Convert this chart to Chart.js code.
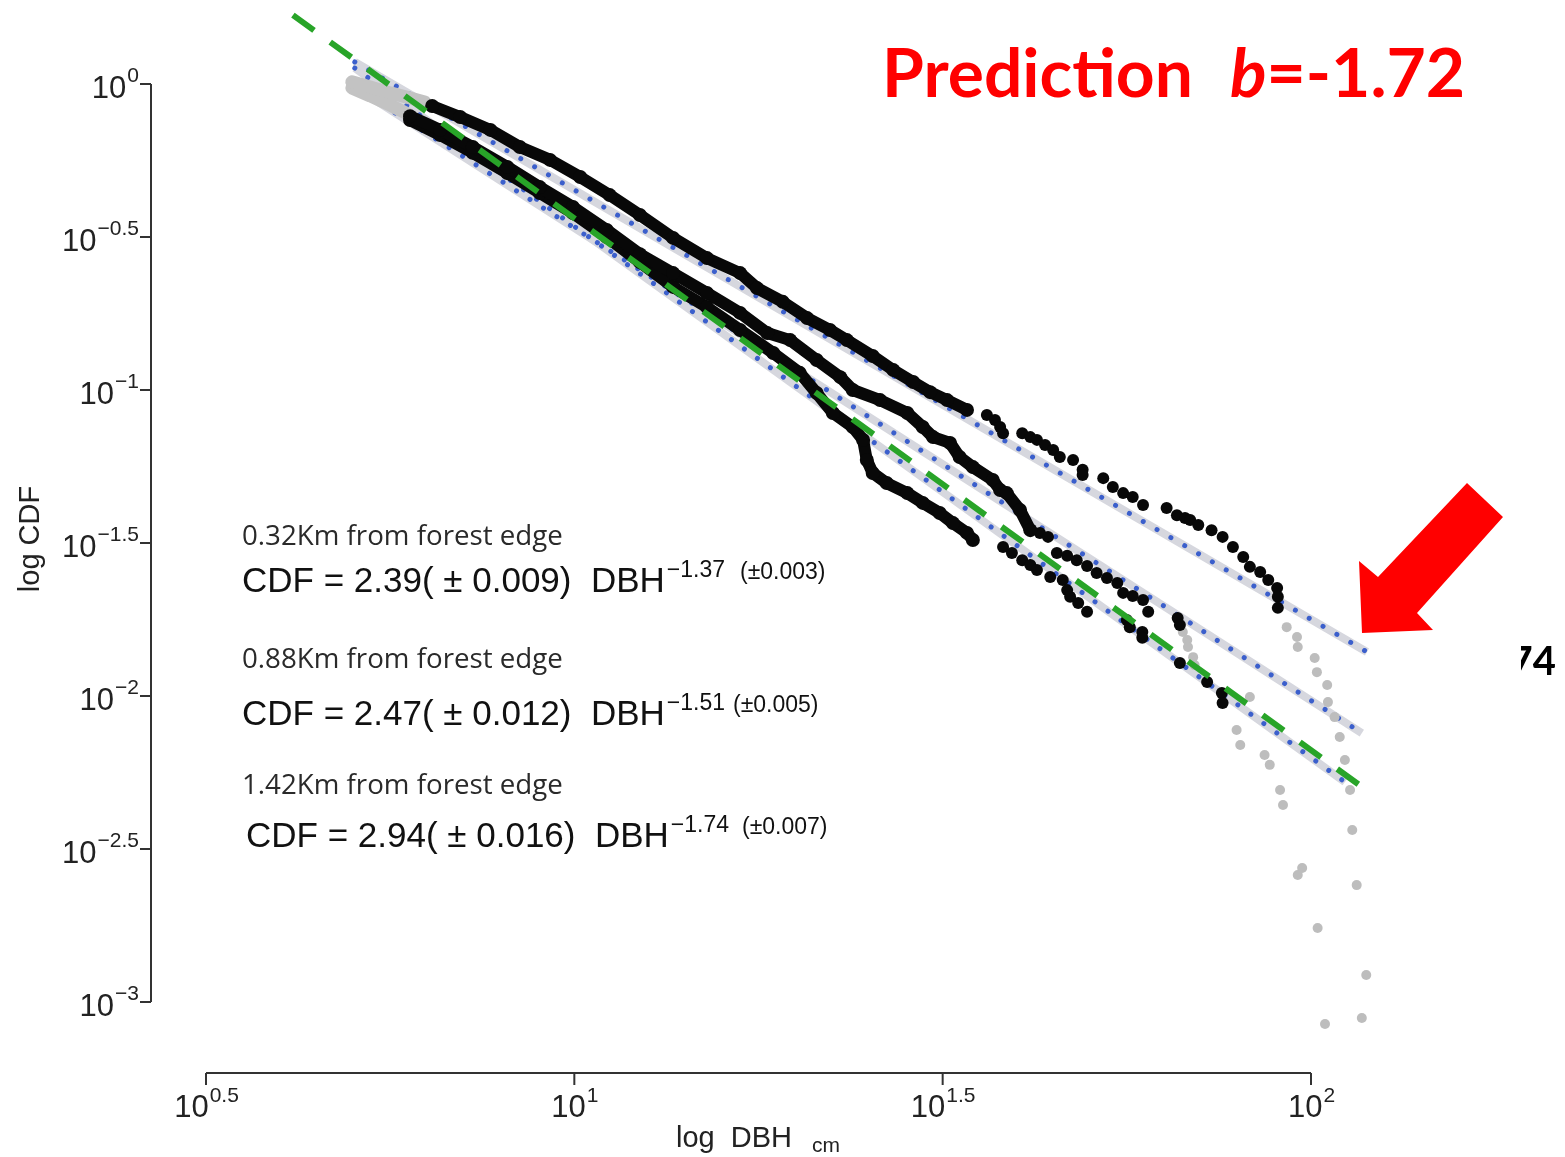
<!DOCTYPE html>
<html>
<head>
<meta charset="utf-8">
<script src="https://cdn.jsdelivr.net/npm/chart.js@4.4.0/dist/chart.umd.min.js"></script>
<style>
  html, body { margin: 0; padding: 0; background: #fff; }
</style>
</head>
<body>
<canvas id="dbhChart" width="1565" height="1157"></canvas>
<script>
// all values are log10(DBH cm) and log10(CDF)

// 0.32 Km from forest edge
var upperX = [0.807, 0.845, 0.886, 0.926, 0.967, 1.008, 1.048, 1.089, 1.134, 1.180, 1.225, 1.248, 1.283, 1.316, 1.347, 1.370, 1.405, 1.433, 1.460, 1.483, 1.506, 1.533];
var upperY = [-0.072, -0.108, -0.150, -0.206, -0.248, -0.304, -0.363, -0.428, -0.503, -0.569, -0.618, -0.667, -0.712, -0.765, -0.804, -0.837, -0.889, -0.935, -0.974, -1.007, -1.033, -1.065];
var upperSparseX = [1.560, 1.571, 1.578, 1.582, 1.608, 1.619, 1.628, 1.639, 1.650, 1.659, 1.677, 1.690, 1.690, 1.718, 1.731, 1.745, 1.758, 1.772, 1.804, 1.818, 1.829, 1.836, 1.847, 1.865, 1.880, 1.894, 1.908, 1.917, 1.931, 1.942, 1.954, 1.955, 1.955];
var upperSparseY = [-1.082, -1.098, -1.121, -1.141, -1.141, -1.154, -1.163, -1.180, -1.196, -1.219, -1.229, -1.261, -1.278, -1.288, -1.317, -1.337, -1.350, -1.376, -1.386, -1.409, -1.418, -1.425, -1.441, -1.458, -1.480, -1.513, -1.546, -1.578, -1.595, -1.621, -1.647, -1.676, -1.712];
var upperHeadX = [0.698, 0.723, 0.750, 0.777, 0.797];
var upperHeadY = [0.007, -0.010, -0.029, -0.046, -0.059];
var upperTailX = [1.967, 1.981, 1.982, 2.005, 2.008, 2.022, 2.023, 2.032, 2.039, 2.046, 2.053, 2.056, 2.062, 2.075, 2.069];
var upperTailY = [-1.775, -1.807, -1.840, -1.876, -1.922, -1.964, -2.020, -2.069, -2.134, -2.209, -2.307, -2.438, -2.618, -2.912, -3.052];

// 0.88 Km from forest edge
var middleX = [0.777, 0.818, 0.862, 0.909, 0.953, 0.998, 1.044, 1.089, 1.134, 1.180, 1.225, 1.262, 1.293, 1.329, 1.361, 1.378, 1.415, 1.452, 1.473, 1.487, 1.510, 1.523, 1.541, 1.568, 1.578, 1.587, 1.605, 1.619];
var middleY = [-0.105, -0.150, -0.206, -0.271, -0.337, -0.402, -0.477, -0.556, -0.618, -0.683, -0.748, -0.814, -0.837, -0.902, -0.958, -1.000, -1.033, -1.075, -1.121, -1.154, -1.173, -1.219, -1.252, -1.294, -1.327, -1.337, -1.392, -1.458];
var middleSparseX = [1.632, 1.643, 1.655, 1.669, 1.682, 1.696, 1.709, 1.723, 1.737, 1.745, 1.758, 1.772, 1.779, 1.819, 1.822];
var middleSparseY = [-1.467, -1.480, -1.533, -1.542, -1.556, -1.575, -1.598, -1.614, -1.631, -1.663, -1.673, -1.686, -1.725, -1.745, -1.768];
var middleTailX = [1.826, 1.832, 1.833, 1.840, 1.842];
var middleTailY = [-1.791, -1.817, -1.840, -1.873, -1.899];

// 1.42 Km from forest edge
var lowerX = [0.777, 0.818, 0.862, 0.909, 0.953, 0.998, 1.044, 1.089, 1.134, 1.180, 1.225, 1.270, 1.306, 1.329, 1.351, 1.378, 1.392, 1.397, 1.405, 1.424, 1.452, 1.473, 1.496, 1.514, 1.533, 1.541];
var lowerY = [-0.118, -0.167, -0.225, -0.291, -0.356, -0.422, -0.500, -0.582, -0.663, -0.729, -0.804, -0.879, -0.944, -1.010, -1.075, -1.121, -1.163, -1.229, -1.271, -1.304, -1.337, -1.369, -1.402, -1.435, -1.467, -1.490];
var lowerSparseX = [1.582, 1.594, 1.608, 1.619, 1.628, 1.646, 1.663, 1.669, 1.673, 1.684, 1.696, 1.750, 1.754, 1.771, 1.771, 1.822, 1.859, 1.879, 1.880];
var lowerSparseY = [-1.513, -1.533, -1.556, -1.572, -1.588, -1.611, -1.621, -1.654, -1.676, -1.696, -1.725, -1.752, -1.775, -1.791, -1.810, -1.892, -1.954, -1.990, -2.023];
var lowerHeadX = [0.698, 0.723, 0.750, 0.774];
var lowerHeadY = [-0.013, -0.039, -0.069, -0.098];
var lowerTailX = [1.917, 1.899, 1.904, 1.937, 1.944, 1.958, 1.962, 1.982, 1.988, 2.009, 2.019];
var lowerTailY = [-2.003, -2.111, -2.160, -2.193, -2.225, -2.307, -2.356, -2.585, -2.562, -2.758, -3.072];

// fitted power laws and the predicted slope
var fit1X = [0.702, 2.076], fit1Y = [0.072, -1.856];
var fit2X = [0.702, 2.069], fit2Y = [-0.010, -2.121];
var fit3X = [0.702, 2.046], fit3Y = [0.052, -2.281];
var predX = [0.618, 2.075], predY = [0.225, -2.307];

// axis ticks
var xTicks = [0.5, 1, 1.5, 2];
var xTickLabels = ['0.5', '1', '1.5', '2'];
var yTicks = [0, -0.5, -1, -1.5, -2, -2.5, -3];
var yTickLabels = ['0', '\u22120.5', '\u22121', '\u22121.5', '\u22122', '\u22122.5', '\u22123'];

var FONT = '"Liberation Sans", Arial, sans-serif';

// axis 10^0.5..10^2 sits between px 206 and 1311, 10^0..10^-3 between px 84 and 1002
var padLeft = 150, padRight = 165, padBottom = 57;
var pxPerX = (1311 - 206) / 1.5;
var pxPerY = (1002 - 84) / 3;
var X_MIN = 0.5 - (206 - padLeft) / pxPerX;
var X_MAX = 2 + (1565 - padRight - 1311) / pxPerX;
var Y_MAX = 84 / pxPerY;
var Y_MIN = -3 - (1157 - padBottom - 1002) / pxPerY;

function pts(xs, ys) {
    return xs.map(function (x, i) { return { x: x, y: ys[i] }; });
}

function band(xs, ys) {
    return { data: pts(xs, ys), showLine: true, borderColor: '#d6d7de', borderWidth: 8,
             pointRadius: 0, borderCapStyle: 'butt', clip: false, order: 6 };
}
function dots(xs, ys) {
    return { data: pts(xs, ys), showLine: true, borderColor: '#3b5fcc', borderWidth: 5,
             borderDash: [0.01, 16], borderCapStyle: 'round', pointRadius: 0, clip: false, order: 5 };
}
function denseCurve(xs, ys) {
    return { data: pts(xs, ys), showLine: true, borderColor: '#080808', borderWidth: 12,
             borderJoinStyle: 'round', borderCapStyle: 'round', pointRadius: 7,
             pointBackgroundColor: '#080808', pointBorderWidth: 0, clip: false, order: 2 };
}
function sparseCurve(xs, ys, color, r, order) {
    return { data: pts(xs, ys), showLine: false, pointRadius: r, pointBackgroundColor: color,
             pointBorderWidth: 0, clip: false, order: order };
}
function headCurve(xs, ys) {
    return { data: pts(xs, ys), showLine: true, borderColor: '#c3c3c3', borderWidth: 13,
             borderCapStyle: 'round', borderJoinStyle: 'round', pointRadius: 0, clip: false, order: 3 };
}

var datasets = [
    band(fit1X, fit1Y), band(fit2X, fit2Y), band(fit3X, fit3Y),
    dots(fit1X, fit1Y), dots(fit2X, fit2Y), dots(fit3X, fit3Y),
    headCurve(upperHeadX, upperHeadY), headCurve(lowerHeadX, lowerHeadY),
    sparseCurve(upperTailX, upperTailY, '#bdbdbd', 5, 3),
    sparseCurve(middleTailX, middleTailY, '#bdbdbd', 5, 3),
    sparseCurve(lowerTailX, lowerTailY, '#bdbdbd', 5, 3),
    denseCurve(upperX, upperY), denseCurve(middleX, middleY), denseCurve(lowerX, lowerY),
    sparseCurve(upperSparseX, upperSparseY, '#080808', 6, 2),
    sparseCurve(middleSparseX, middleSparseY, '#080808', 6, 2),
    sparseCurve(lowerSparseX, lowerSparseY, '#080808', 6, 2),
    { data: pts(predX, predY), showLine: true, borderColor: '#28a428', borderWidth: 6,
      borderDash: [26, 20], pointRadius: 0, clip: false, order: 1 }
];

function drawPow(ctx, base, sup, x, y, align, baseSize, supSize, rise) {
    ctx.font = baseSize + 'px ' + FONT;
    var wb = ctx.measureText(base).width;
    ctx.font = supSize + 'px ' + FONT;
    var ws = ctx.measureText(sup).width;
    var start = align === 'center' ? x - (wb + ws) / 2 : x - wb - ws;
    ctx.font = baseSize + 'px ' + FONT;
    ctx.fillText(base, start, y);
    ctx.font = supSize + 'px ' + FONT;
    ctx.fillText(sup, start + wb + 1, y - rise);
    return start + wb;
}

function fitFont(ctx, text, width, style, family) {
    ctx.font = style + ' 40px ' + family;
    return 40 * width / ctx.measureText(text).width;
}

function equation(ctx, x, y, coef, err, exp, expErr, errX) {
    ctx.fillStyle = '#111';
    ctx.font = '35px ' + FONT;
    var main = 'CDF = ' + coef + '( \u00b1 ' + err + ')  DBH';
    ctx.fillText(main, x, y);
    var w = ctx.measureText(main).width;
    ctx.font = '23px ' + FONT;
    ctx.fillText(exp, x + w + 2, y - 15);
    ctx.font = '23px ' + FONT;
    ctx.fillText('(\u00b1' + expErr + ')', errX, y - 13);
}

var decor = {
    id: 'decor',
    afterDraw: function (chart) {
        var ctx = chart.ctx;
        var xs = chart.scales.x, ys = chart.scales.y;
        var axisX = xs.getPixelForValue(0.5) - 55;
        var axisY = ys.getPixelForValue(-3) + 71;
        ctx.save();
        ctx.strokeStyle = '#333';
        ctx.lineWidth = 2;
        ctx.fillStyle = '#222';
        ctx.textBaseline = 'alphabetic';
        ctx.textAlign = 'left';

        // y axis
        ctx.beginPath();
        ctx.moveTo(axisX, ys.getPixelForValue(yTicks[0]));
        ctx.lineTo(axisX, ys.getPixelForValue(yTicks[yTicks.length - 1]));
        yTicks.forEach(function (v) {
            var py = ys.getPixelForValue(v);
            ctx.moveTo(axisX - 11, py);
            ctx.lineTo(axisX, py);
        });
        ctx.stroke();
        yTicks.forEach(function (v, i) {
            var py = ys.getPixelForValue(v);
            drawPow(ctx, '10', yTickLabels[i], axisX - 13, py + 14, 'right', 31, 21, 16);
        });

        // x axis
        ctx.beginPath();
        ctx.moveTo(xs.getPixelForValue(xTicks[0]), axisY);
        ctx.lineTo(xs.getPixelForValue(xTicks[xTicks.length - 1]), axisY);
        xTicks.forEach(function (v) {
            var px = xs.getPixelForValue(v);
            ctx.moveTo(px, axisY);
            ctx.lineTo(px, axisY + 12);
        });
        ctx.stroke();
        xTicks.forEach(function (v, i) {
            drawPow(ctx, '10', xTickLabels[i], xs.getPixelForValue(v), axisY + 44, 'center', 31, 21, 15);
        });

        // axis titles
        ctx.font = '29px ' + FONT;
        ctx.fillText('log  DBH', 676, 1147);
        ctx.font = '21px ' + FONT;
        ctx.fillText('cm', 812, 1152);
        ctx.save();
        ctx.translate(39, 539);
        ctx.rotate(-Math.PI / 2);
        ctx.textAlign = 'center';
        ctx.font = '29px ' + FONT;
        ctx.fillText('log CDF', 0, 0);
        ctx.restore();

        // fit annotations
        var fam = '"Open Sans", "Noto Sans", sans-serif';
        var fs = fitFont(ctx, '0.32Km from forest edge', 321, 'normal', fam);
        ctx.font = fs + 'px ' + fam;
        ctx.fillStyle = '#2a2a2a';
        ctx.fillText('0.32Km from forest edge', 242, 545);
        ctx.fillText('0.88Km from forest edge', 242, 668);
        ctx.fillText('1.42Km from forest edge', 242, 794);
        equation(ctx, 242, 592, '2.39', '0.009', '\u22121.37', '0.003', 740);
        equation(ctx, 242, 725, '2.47', '0.012', '\u22121.51', '0.005', 733);
        equation(ctx, 246, 847, '2.94', '0.016', '\u22121.74', '0.007', 742);

        // title
        var tf = '"Lato", "Open Sans", sans-serif';
        var ts = fitFont(ctx, 'Prediction', 311, 'bold', tf);
        ctx.fillStyle = '#ff0000';
        ctx.font = 'bold ' + ts + 'px ' + tf;
        ctx.fillText('Prediction', 882, 97);
        ctx.font = 'italic bold ' + ts + 'px ' + tf;
        ctx.fillText('b', 1230, 97);
        var wb = ctx.measureText('b').width;
        ctx.font = 'bold ' + ts + 'px ' + tf;
        ctx.fillText('=-1.72', 1230 + wb, 97);

        // red arrow
        ctx.beginPath();
        ctx.moveTo(1467, 483);
        ctx.lineTo(1503, 517);
        ctx.lineTo(1417, 613);
        ctx.lineTo(1433, 630);
        ctx.lineTo(1362, 633);
        ctx.lineTo(1359, 561);
        ctx.lineTo(1378, 577);
        ctx.closePath();
        ctx.fill();

        // clipped label at the right edge
        ctx.save();
        ctx.beginPath();
        ctx.rect(1521, 620, 60, 80);
        ctx.clip();
        ctx.fillStyle = '#000';
        ctx.font = 'bold 40px ' + tf;
        ctx.textAlign = 'right';
        ctx.fillText('74', 1556, 675);
        ctx.restore();

        ctx.restore();
    }
};

var ctx = document.getElementById('dbhChart').getContext('2d');
var myChart = new Chart(ctx, {
    type: 'scatter',
    data: { datasets: datasets },
    options: {
        responsive: false,
        animation: false,
        devicePixelRatio: 1,
        events: [],
        layout: {
            autoPadding: false,
            padding: { left: padLeft, right: padRight, top: 0, bottom: padBottom }
        },
        scales: {
            x: { type: 'linear', min: X_MIN, max: X_MAX, display: false },
            y: { type: 'linear', min: Y_MIN, max: Y_MAX, display: false }
        },
        plugins: { legend: { display: false }, tooltip: { enabled: false } }
    },
    plugins: [decor]
});
</script>
</body>
</html>
